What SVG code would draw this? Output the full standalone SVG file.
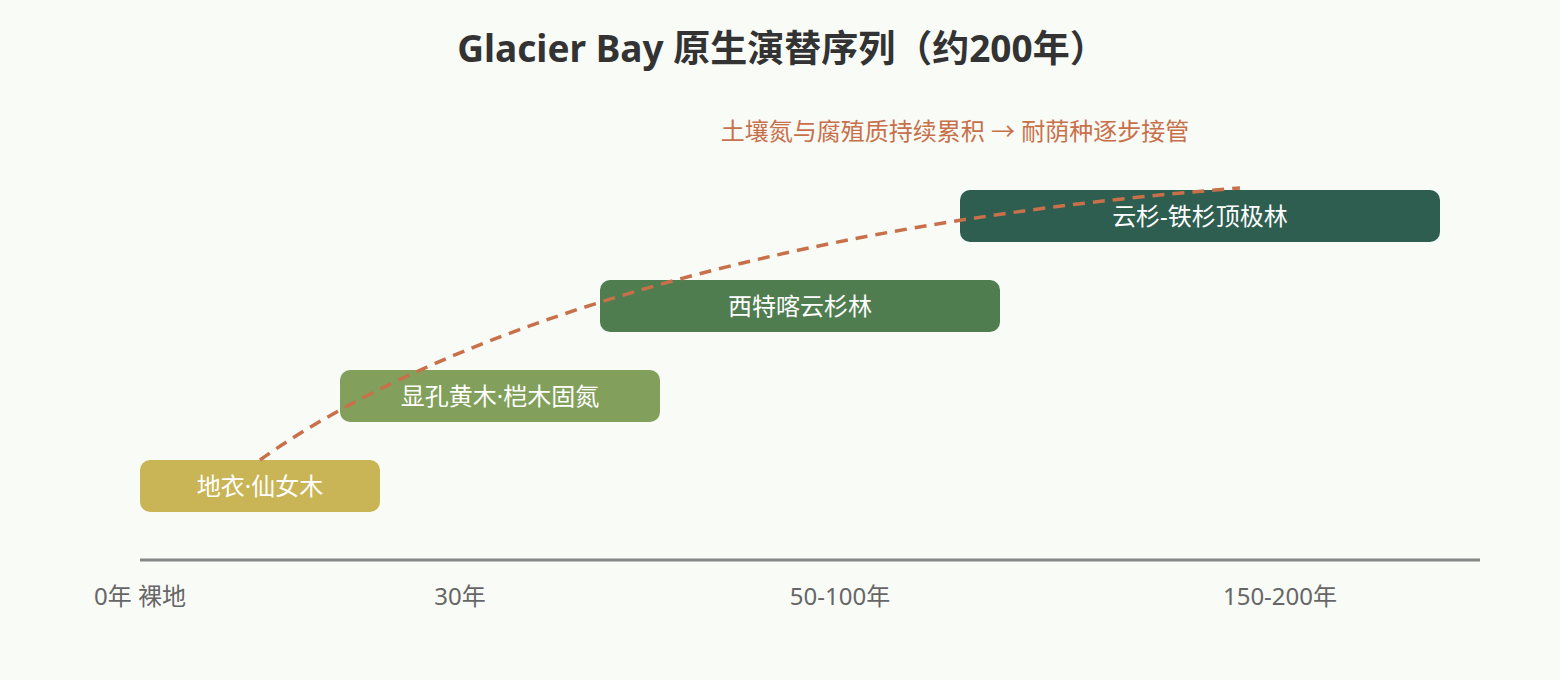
<svg xmlns="http://www.w3.org/2000/svg" width="1560" height="680" viewBox="0 0 1560 680">
<style>
.t{font-family:"Noto Sans","Noto Sans CJK SC",sans-serif}
.title{font-size:37px;font-weight:bold;fill:#333;text-anchor:middle}
.sub{font-size:24px;fill:#c8704a;text-anchor:middle}
.lbl{font-size:24px;fill:#fff;text-anchor:middle}
.tick{font-size:24px;fill:#666;text-anchor:middle}
</style>
<rect width="1560" height="680" fill="#f9fbf7"/>
<text class="t title" x="782" y="62">Glacier Bay 原生演替序列（约200年）</text>
<text class="t sub" x="955" y="140">土壤氮与腐殖质持续累积 → 耐荫种逐步接管</text>
<g id="axis">
<line x1="140" y1="560" x2="1480" y2="560" stroke="#888" stroke-width="3"/>
<text class="t tick" x="140" y="605">0年 裸地</text>
<text class="t tick" x="460" y="605">30年</text>
<text class="t tick" x="840" y="605">50-100年</text>
<text class="t tick" x="1280" y="605">150-200年</text>
</g>
<g id="n1"><rect x="140" y="460" width="240" height="52" rx="10" fill="#c9b556"/><text class="t lbl" x="260" y="495">地衣·仙女木</text></g>
<g id="n2"><rect x="340" y="370" width="320" height="52" rx="10" fill="#82a05c"/><text class="t lbl" x="500" y="405">显孔黄木·桤木固氮</text></g>
<g id="n3"><rect x="600" y="280" width="400" height="52" rx="10" fill="#4f7d50"/><text class="t lbl" x="800" y="315">西特喀云杉林</text></g>
<g id="n4"><rect x="960" y="190" width="480" height="52" rx="10" fill="#2e5e50"/><text class="t lbl" x="1200" y="225">云杉-铁杉顶极林</text></g>
<g id="connectors">
<path d="M260,460 C400,360 700,230 1240,188" fill="none" stroke="#c8704a" stroke-width="3.5" stroke-dasharray="12,8"/>
</g>
</svg>
